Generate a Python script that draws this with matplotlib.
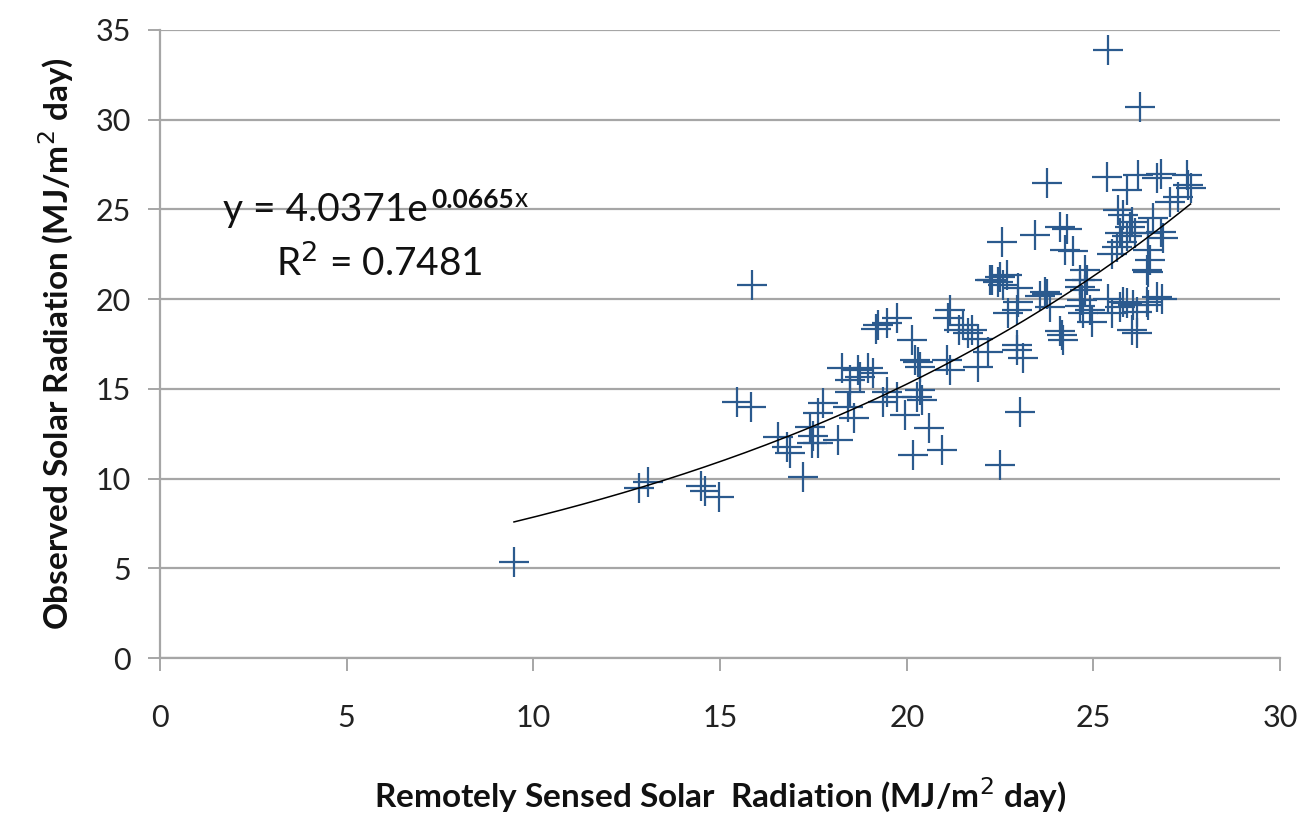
import numpy as np
import matplotlib
matplotlib.use("Agg")
import matplotlib.pyplot as plt

# Remotely sensed (x) vs observed (y) solar radiation, MJ/m2 day
remote = [9.48, 25.4, 26.25, 15.86, 23.76, 12.83, 13.08, 14.5, 14.6, 14.98,
          15.46, 15.83, 19.23, 19.47, 19.74, 19.18, 20.15, 20.3, 18.27, 18.7,
          18.97, 18.75, 18.48, 19.1, 18.48, 18.43, 18.6, 17.77, 17.63, 17.4,
          17.5, 17.45, 17.63, 18.16, 16.56, 16.8, 16.88, 17.23, 19.37, 19.47,
          19.74, 19.96, 20.22, 20.36, 20.28, 20.4, 20.17, 20.6, 21.16, 21.1,
          21.65, 21.4, 21.9, 20.36, 21.08, 21.16, 22.18, 22.95, 23.1, 21.9,
          22.23, 22.5, 22.58, 22.98, 22.95, 22.7, 23.76, 23.57, 23.84, 24.16,
          24.1, 24.19, 24.64, 24.78, 24.7, 24.73, 24.9, 25.7, 25.8, 26.07,
          26.17, 25.5, 26.44, 26.44, 25.37, 26.2, 26.8, 26.7, 27.5, 27.54,
          25.9, 27.27, 27.05, 25.66, 25.8, 26.04, 25.98, 25.71, 25.9, 25.77,
          25.63, 26.1, 26.46, 26.8, 26.87, 26.46, 26.52, 26.47, 24.3, 24.46,
          24.78, 24.83, 24.64, 24.64, 24.96, 25.9, 26.17, 26.04, 26.7, 26.47,
          26.84, 22.55, 23.44, 24.1, 24.24, 22.28, 22.45, 22.69, 22.98, 23.7,
          21.5, 21.75, 22.95, 20.95, 22.5, 23.04, 25.4, 27.6, 26.6, 25.5]
observed = [5.35, 33.9, 30.7, 20.8, 26.5, 9.47, 9.8, 9.6, 9.3, 8.97,
            14.27, 14.0, 18.56, 18.67, 18.95, 18.34, 17.7, 16.5, 16.17, 16.05,
            16.17, 15.66, 15.5, 15.9, 14.83, 14.0, 13.4, 14.2, 13.65, 12.9,
            12.4, 11.98, 12.0, 12.15, 12.3, 11.76, 11.4, 10.1, 14.27, 14.8,
            14.55, 13.55, 16.6, 14.94, 14.55, 14.4, 11.3, 12.8, 19.4, 18.95,
            18.1, 18.3, 17.8, 16.2, 16.6, 16.05, 17.05, 17.17, 16.7, 16.2,
            21.07, 21.24, 20.8, 19.85, 19.4, 19.2, 20.3, 20.2, 19.57, 18.0,
            18.2, 17.7, 21.07, 20.5, 19.96, 19.2, 19.4, 19.57, 19.85, 19.68,
            18.1, 19.2, 21.6, 19.85, 26.8, 26.9, 27.0, 26.75, 26.9, 26.35,
            26.1, 25.7, 25.4, 24.97, 24.7, 24.3, 24.0, 23.7, 23.5, 23.2,
            22.9, 23.7, 23.7, 23.74, 23.4, 22.74, 22.2, 21.5, 23.9, 22.7,
            21.6, 21.07, 20.7, 19.6, 18.7, 19.8, 19.3, 18.3, 20.1, 19.7,
            20.0, 23.2, 23.6, 24.0, 22.74, 21.07, 20.96, 21.35, 20.6, 20.4,
            18.56, 18.3, 17.45, 11.6, 10.76, 13.7, 20.0, 26.2, 24.5, 22.5]

coef_a = 4.0371
coef_b = 0.0665
r2 = 0.7481
x_ticks = [0, 5, 10, 15, 20, 25, 30]
y_ticks = [0, 5, 10, 15, 20, 25, 30, 35]

plt.rcParams['font.family'] = ['Lato', 'DejaVu Sans']

fig = plt.figure(figsize=(13.04, 8.17), dpi=100)
ax = fig.add_axes([0.1227, 0.1946, 0.8590, 0.7687])

ax.set_xlim(0, 30)
ax.set_ylim(0, 35)
ax.set_xticks(x_ticks)
ax.set_yticks(y_ticks)
ax.grid(axis='y', color='#a6a6a6', linewidth=1.6)
ax.set_axisbelow(True)
for s in ['top', 'right']:
    ax.spines[s].set_visible(False)
for s in ['left', 'bottom']:
    ax.spines[s].set_color('#a6a6a6')
    ax.spines[s].set_linewidth(1.6)
ax.tick_params(axis='both', colors='#a6a6a6', labelcolor='#222222',
               labelsize=22, length=9, width=1.4)
ax.tick_params(axis='y', pad=12)
ax.tick_params(axis='x', pad=24)

ax.plot(remote, observed, linestyle='none', marker='+', markersize=21,
        markeredgewidth=1.6, color='#2b5a8e', zorder=3)

xs = np.linspace(min(remote), max(remote), 200)
ax.plot(xs, coef_a * np.exp(coef_b * xs), color='black', linewidth=1.1, zorder=4)

ax.set_xlabel('Remotely Sensed Solar  Radiation (MJ/m$^{2}$ day)', fontsize=24,
              fontweight='bold', color='#111111', labelpad=32)
ax.set_ylabel('Observed Solar Radiation (MJ/m$^{2}$ day)', fontsize=24,
              fontweight='bold', color='#111111', labelpad=14)

t1 = ax.text(1.7, 24.35, 'y = %.4fe' % coef_a, fontsize=28, color='#111111',
             va='baseline')
t2 = ax.annotate('%.4f' % coef_b, xy=(1, 0.55), xycoords=t1, xytext=(2, 0),
                 textcoords='offset points', fontsize=19, fontweight='bold',
                 color='#111111', va='baseline')
ax.annotate('x', xy=(1, 0), xycoords=t2, xytext=(1, 0),
            textcoords='offset points', fontsize=19, color='#111111',
            va='bottom')
ax.text(3.1, 21.3, 'R$^{2}$ = %.4f' % r2, fontsize=28, color='#111111',
        va='baseline')

fig.savefig('out.png', dpi=100)
